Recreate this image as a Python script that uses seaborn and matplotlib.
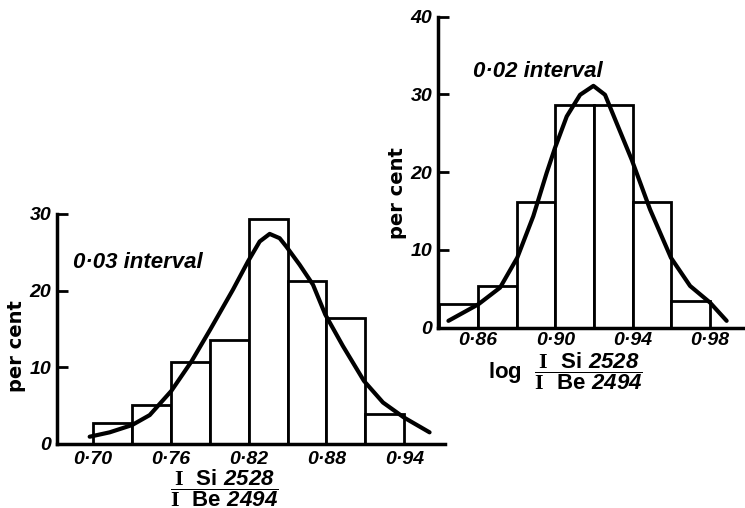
import numpy as np
import matplotlib
matplotlib.use("Agg")
import matplotlib.pyplot as plt
import seaborn as sns

# ---------------- data ----------------
left_bin_edges = [0.70, 0.73, 0.76, 0.79, 0.82, 0.85, 0.88, 0.91, 0.94]
left_percent = [2.7, 5.1, 10.7, 13.6, 29.3, 21.3, 16.4, 3.9]
left_curve_x = [0.6974, 0.7128, 0.7301, 0.7437, 0.7604, 0.7758, 0.7904, 0.8079,
                0.8195, 0.8285, 0.8362, 0.8439, 0.8490, 0.8593, 0.8696, 0.8791,
                0.8927, 0.9089, 0.9236, 0.9397, 0.9595]
left_curve_y = [0.95, 1.52, 2.47, 3.77, 6.93, 10.74, 14.94, 20.13,
                23.81, 26.41, 27.40, 26.84, 25.76, 23.38, 20.78, 16.88,
                12.77, 8.23, 5.41, 3.46, 1.52]
left_xticks = [0.70, 0.76, 0.82, 0.88, 0.94]
left_xticklabels = ["0·70", "0·76", "0·82", "0·88", "0·94"]
left_yticks = [0, 10, 20, 30]

right_bin_edges = [0.84, 0.86, 0.88, 0.90, 0.92, 0.94, 0.96, 0.98]
right_percent = [3.0, 5.4, 16.1, 28.7, 28.7, 16.1, 3.4]
right_curve_x = [0.8447, 0.8602, 0.8714, 0.8803, 0.8886, 0.8955, 0.8998, 0.9059,
                 0.9128, 0.9197, 0.9257, 0.9317, 0.9395, 0.9490, 0.9598, 0.9697,
                 0.9800, 0.9886]
right_curve_y = [0.86, 2.99, 5.13, 8.98, 14.33, 19.89, 23.10, 27.17,
                 29.95, 31.10, 29.95, 26.31, 21.60, 15.19, 8.98, 5.35,
                 3.21, 0.86]
right_xticks = [0.86, 0.90, 0.94, 0.98]
right_xticklabels = ["0·86", "0·90", "0·94", "0·98"]
right_yticks = [0, 10, 20, 30, 40]

# ---------------- style ----------------
sns.set_theme(style="white")
plt.rcParams["font.family"] = ["Liberation Sans", "DejaVu Sans"]
plt.rcParams["text.color"] = "black"
plt.rcParams["axes.labelcolor"] = "black"
plt.rcParams["xtick.color"] = "black"
plt.rcParams["ytick.color"] = "black"
plt.rcParams["mathtext.fontset"] = "custom"
plt.rcParams["mathtext.rm"] = "Liberation Serif:bold"
plt.rcParams["mathtext.bf"] = "Liberation Sans:bold"
plt.rcParams["mathtext.sf"] = "Liberation Sans:bold:italic"
plt.rcParams["mathtext.it"] = "Liberation Sans:bold:italic"

fig = plt.figure(figsize=(7.45, 5.08), dpi=100)
fig.patch.set_facecolor("white")

ax_l = fig.add_axes([0.0765, 0.126, 0.5208, 0.4528])
ax_r = fig.add_axes([0.5879, 0.3553, 0.4121, 0.6118])


def draw_panel(ax, edges, pct, cx, cy, xlim, ylim, xticks, xticklabels, yticks, pad_x):
    ax.set_facecolor("none")
    centers = np.add(edges[:-1], edges[1:]) / 2.0
    sns.histplot(x=centers, weights=pct, bins=edges, ax=ax, fill=True,
                 color="white", edgecolor="black", linewidth=2.0, alpha=1.0,
                 zorder=2)
    sns.lineplot(x=cx, y=cy, ax=ax, sort=False, color="black", linewidth=3.0,
                 zorder=3, solid_capstyle="round", solid_joinstyle="round")
    ax.set_xlim(*xlim)
    ax.set_ylim(*ylim)
    ax.set_xticks(xticks)
    ax.set_xticklabels(xticklabels)
    ax.set_yticks(yticks)
    ax.set_yticklabels([str(t) for t in yticks])
    ax.set_xlabel("")
    ax.set_ylabel("")
    for s in ["top", "right"]:
        ax.spines[s].set_visible(False)
    for s in ["left", "bottom"]:
        ax.spines[s].set_linewidth(2.5)
        ax.spines[s].set_color("black")
    ax.tick_params(axis="y", direction="in", length=8, width=2, color="black",
                   pad=4, left=True)
    ax.tick_params(axis="x", length=0, pad=pad_x, bottom=True)
    for lab in ax.get_xticklabels() + ax.get_yticklabels():
        lab.set_fontweight("bold")
        lab.set_fontstyle("italic")
        lab.set_fontsize(14)
        lab.set_color("black")
    ax.grid(False)


draw_panel(ax_l, left_bin_edges, left_percent, left_curve_x, left_curve_y,
           (0.6722, 0.9714), (0, 30), left_xticks, left_xticklabels, left_yticks, 5)
draw_panel(ax_r, right_bin_edges, right_percent, right_curve_x, right_curve_y,
           (0.8393, 0.9981), (0, 40), right_xticks, right_xticklabels, right_yticks, 3)

# annotations
fig.text(0.098, 0.484, "0·03 interval", fontsize=16, fontweight="bold",
         fontstyle="italic", ha="left", va="center", color="black")
fig.text(0.635, 0.860, "0·02 interval", fontsize=16, fontweight="bold",
         fontstyle="italic", ha="left", va="center", color="black")

# y labels
fig.text(0.0228, 0.319, "per cent", rotation=90, fontsize=14, fontweight="bold",
         family="DejaVu Sans", ha="center", va="center", color="black")
fig.text(0.534, 0.620, "per cent", rotation=90, fontsize=14, fontweight="bold",
         family="DejaVu Sans", ha="center", va="center", color="black")

# x labels (fractions)
frac = (r"\dfrac{\mathrm{I}\ \ \mathbf{Si}\ \mathsf{2528}}"
        r"{\mathrm{I}\ \ \mathbf{Be}\ \mathsf{2494}}")
fig.text(0.3007, 0.0394, "$" + frac + "$", fontsize=16, ha="center",
         va="center", color="black")
fig.text(0.759, 0.270, r"$\mathbf{log}\ \ " + frac + "$", fontsize=16,
         ha="center", va="center", color="black")

fig.savefig("out.png", dpi=100, facecolor="white")
